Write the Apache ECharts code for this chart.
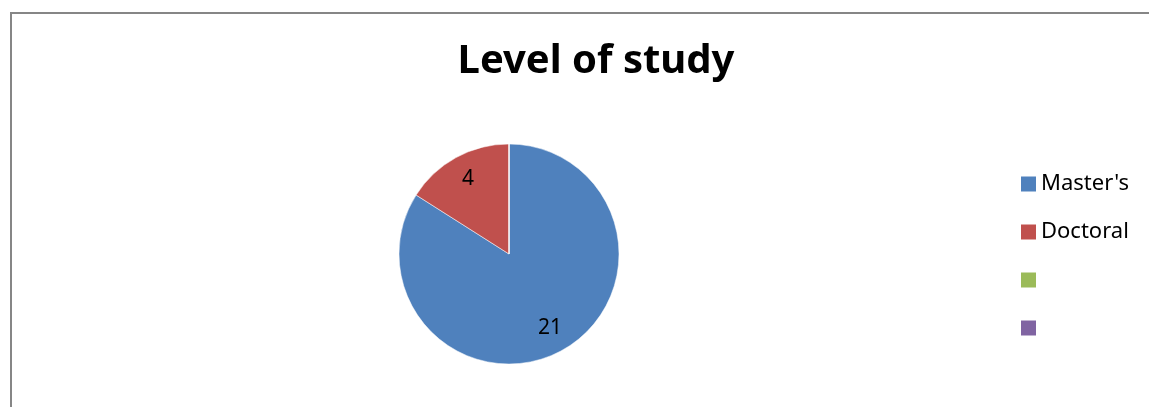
<!DOCTYPE html>
<html>
<head>
<meta charset="utf-8">
<style>
  html, body { margin: 0; padding: 0; background: #fff; }
  #chart { width: 1149px; height: 407px; }
</style>
<script src="https://cdn.jsdelivr.net/npm/echarts@6/dist/echarts.min.js"></script>
</head>
<body>
<div id="chart"></div>
<script>
// Level of study: respondents by degree programme
const categories = ["Master's", "Doctoral", " ", "  "];
const counts = [21, 4, 0, 0];
const colors = ['#4F81BD', '#C0504D', '#9BBB59', '#8064A2'];

const FONT = '"Noto Sans", "Open Sans", sans-serif';

const sliceData = categories.map((name, i) => ({
  name: name,
  value: counts[i],
  itemStyle: { color: colors[i] }
}));

// transparent copy that only carries the value labels
const labelData = categories.map((name, i) => ({
  name: name,
  value: counts[i],
  itemStyle: { color: 'rgba(0,0,0,0)' },
  label: { show: counts[i] > 0 }
}));

const chart = echarts.init(document.getElementById('chart'), null, { renderer: 'canvas' });

chart.setOption({
  animation: false,
  backgroundColor: '#fff',
  title: {
    text: 'Level of study',
    left: 591,
    textAlign: 'center',
    top: 37,
    textStyle: { fontFamily: FONT, fontWeight: 'bold', fontSize: 40, color: '#000' }
  },
  legend: {
    orient: 'vertical',
    left: 1016,
    top: 168,
    itemWidth: 15,
    itemHeight: 15,
    itemGap: 26,
    icon: 'rect',
    data: categories,
    selectedMode: false,
    itemStyle: { borderWidth: 0 },
    textStyle: { fontFamily: FONT, fontSize: 22, color: '#000' }
  },
  graphic: [{
    type: 'rect',
    shape: { x: 11, y: 13, width: 1200, height: 500 },
    style: { fill: 'none', stroke: '#868686', lineWidth: 2 },
    silent: true,
    z: -1
  }],
  series: [
    {
      type: 'pie',
      center: [509, 254],
      radius: [0, 110],
      startAngle: 90,
      clockwise: true,
      data: sliceData,
      label: { show: false },
      labelLine: { show: false },
      itemStyle: { borderColor: '#fff', borderWidth: 0.5 },
      emphasis: { disabled: true },
      silent: true
    },
    {
      // label ring: places value labels at ~0.73 of the radius
      type: 'pie',
      center: [509, 254],
      radius: [54, 110],
      startAngle: 90,
      clockwise: true,
      data: labelData,
      label: {
        position: 'inside',
        formatter: '{c}',
        fontFamily: FONT,
        fontSize: 21,
        color: '#000'
      },
      labelLine: { show: false },
      itemStyle: { borderWidth: 0 },
      emphasis: { disabled: true },
      silent: true
    }
  ]
});
</script>
</body>
</html>
